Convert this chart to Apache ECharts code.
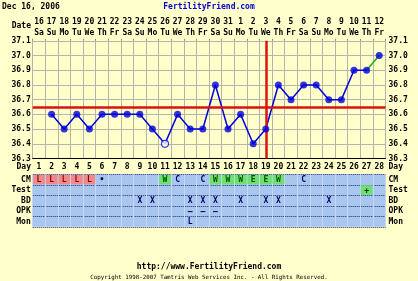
<!DOCTYPE html>
<html><head><meta charset="utf-8">
<script src="https://cdn.jsdelivr.net/npm/echarts@6/dist/echarts.min.js"></script>
<style>html,body{margin:0;padding:0;background:#ffffcc;}#c{width:418px;height:281px;}</style>
</head><body><div id="c"></div>
<script>
const dayNums = ['1','2','3','4','5','6','7','8','9','10','11','12','13','14','15','16','17','18','19','20','21','22','23','24','25','26','27','28'];
const dates = ['16','17','18','19','20','21','22','23','24','25','26','27','28','29','30','31','1','2','3','4','5','6','7','8','9','10','11','12'];
const weekdays = ['Sa','Su','Mo','Tu','We','Th','Fr','Sa','Su','Mo','Tu','We','Th','Fr','Sa','Su','Mo','Tu','We','Th','Fr','Sa','Su','Mo','Tu','We','Th','Fr'];
const temps = [null,36.6,36.5,36.6,36.5,36.6,36.6,36.6,36.6,36.5,36.4,36.6,36.5,36.5,36.8,36.5,36.6,36.4,36.5,36.8,36.7,36.8,36.8,36.7,36.7,36.9,36.9,37.0];
const hollowDays = ['11'];
const greenFromDay = '27';
const coverline = 36.65;
const ovulationDay = '19';
const tempMin = 36.3, tempMax = 37.1, tempStep = 0.1;
const rowNames = ['CM','Test','BD','OPK','Mon'];
const cmRow   = ['L','L','L','L','L','•','','','','','W','C','','C','W','W','W','E','E','W','','C','','','','','',''];
const testRow = ['','','','','','','','','','','','','','','','','','','','','','','','','','','+',''];
const bdRow   = ['','','','','','','','','X','X','','','X','X','X','','X','','X','X','','','','X','','','',''];
const opkRow  = ['','','','','','','','','','','','','–','–','–','','','','','','','','','','','','',''];
const monRow  = ['','','','','','','','','','','','','L','','','','','','','','','','','','','','',''];
const dateTitle = 'Dec 16, 2006';
const siteTitle = 'FertilityFriend.com';
const footUrl = 'http://www.FertilityFriend.com';
const footCopy = 'Copyright 1998-2007 Tamtris Web Services Inc. - All Rights Reserved.';

const FONT = '"DejaVu Sans Mono", monospace';
const rows = [cmRow, testRow, bdRow, opkRow, monRow];
const cells = [];
rows.forEach((r, ri) => r.forEach((t, di) => { if (t) cells.push([di, ri, t]); }));
const gi = dayNums.indexOf(greenFromDay);
const blueLine = temps.map((v, i) => i <= gi ? v : null);
const greenLine = temps.map((v, i) => i >= gi ? v : null);
const pts = temps.map((v, i) => v == null ? null : (hollowDays.includes(dayNums[i]) ?
  {value: v, itemStyle: {color: '#ffffff', borderColor: '#0000dd', borderWidth: 1.2}} : v));

function cellStyle(ri, t) {
  if (ri === 0 && t === 'L') return {bg: '#f08a8a', fg: '#8b0000'};
  if (ri === 0 && (t === 'W' || t === 'E')) return {bg: '#6ee06e', fg: '#005000'};
  if (ri === 1 && t === '+') return {bg: '#6ee06e', fg: '#003000'};
  return {bg: null, fg: '#000060'};
}

const chart = echarts.init(document.getElementById('c'), null, {renderer: 'canvas'});
const lbl = {fontFamily: FONT, fontWeight: 'bold', fontSize: 8, color: '#000'};
chart.setOption({
  backgroundColor: '#ffffcc',
  animation: false,
  grid: [
    {left: 32.7, right: 32.5, top: 40.8, height: 117.7, show: false},
    {left: 32.7, right: 32.5, top: 174.3, height: 52.5, show: true, backgroundColor: '#a8c6ee', borderWidth: 0}
  ],
  xAxis: [
    {type: 'category', gridIndex: 0, data: dayNums, position: 'bottom', boundaryGap: true,
     axisLine: {show: true, lineStyle: {color: '#000', width: 1}}, axisTick: {show: false},
     axisLabel: Object.assign({}, lbl, {interval: 0, margin: 4}),
     splitLine: {show: true, interval: 0, lineStyle: {color: '#b4b4a8', width: 1}}},
    {type: 'category', gridIndex: 0, data: dates, position: 'top', boundaryGap: true,
     axisLine: {show: false}, axisTick: {show: true, length: 2, interval: 0, lineStyle: {color: '#888'}},
     axisLabel: {interval: 0, margin: 3, formatter: (v, i) => '{d|' + v + '}\n{w|' + weekdays[i] + '}',
       rich: {d: Object.assign({}, lbl, {lineHeight: 10.3}), w: Object.assign({}, lbl, {lineHeight: 10.3})}}},
    {type: 'category', gridIndex: 1, data: dayNums, boundaryGap: true, show: true,
     axisLine: {show: false}, axisTick: {show: false}, axisLabel: {show: false},
     splitLine: {show: true, interval: 0, lineStyle: {color: '#c4d8f4', width: 1}}}
  ],
  yAxis: [
    {type: 'value', gridIndex: 0, min: tempMin, max: tempMax, interval: tempStep, position: 'left',
     axisLine: {show: false}, axisTick: {show: false},
     axisLabel: Object.assign({}, lbl, {margin: 2, formatter: v => v.toFixed(1)}),
     splitLine: {show: true, lineStyle: {color: '#b4b4a8', width: 1}}},
    {type: 'value', gridIndex: 0, min: tempMin, max: tempMax, interval: tempStep, position: 'right',
     axisLine: {show: false}, axisTick: {show: false},
     axisLabel: Object.assign({}, lbl, {margin: 3, formatter: v => v.toFixed(1)}), splitLine: {show: false}},
    {type: 'category', gridIndex: 1, data: rowNames, inverse: true, position: 'left', boundaryGap: true,
     axisLine: {show: false}, axisTick: {show: false},
     axisLabel: Object.assign({}, lbl, {margin: 2, interval: 0}),
     splitLine: {show: true, interval: 0, lineStyle: {color: '#1a2a70', width: 1, type: [1, 1]}}},
    {type: 'category', gridIndex: 1, data: rowNames, inverse: true, position: 'right', boundaryGap: true,
     axisLine: {show: false}, axisTick: {show: false},
     axisLabel: Object.assign({}, lbl, {margin: 3, interval: 0}), splitLine: {show: false}}
  ],
  series: [
    {type: 'line', xAxisIndex: 0, yAxisIndex: 0, data: blueLine, connectNulls: false, showSymbol: false, symbol: 'none',
     lineStyle: {color: '#0000dd', width: 1.5}, z: 3,
     markLine: {silent: true, symbol: 'none', label: {show: false},
       data: [{yAxis: coverline, lineStyle: {color: '#e01010', width: 2.5, type: 'solid'}},
              {xAxis: ovulationDay, lineStyle: {color: '#e01010', width: 2.5, type: 'solid'}}]}},
    {type: 'line', xAxisIndex: 0, yAxisIndex: 0, data: greenLine, showSymbol: false, symbol: 'none',
     lineStyle: {color: '#22aa22', width: 1.5}, z: 3},
    {type: 'scatter', xAxisIndex: 0, yAxisIndex: 0, data: pts, symbol: 'circle', symbolSize: 7,
     itemStyle: {color: '#0000dd'}, z: 5},
    {type: 'custom', xAxisIndex: 2, yAxisIndex: 2, data: cells, z: 4,
     renderItem: function (params, api) {
       const x = api.value(0), y = api.value(1), t = cells[params.dataIndex][2];
       const c = api.coord([x, y]), s = api.size([1, 1]);
       const st = cellStyle(y, t);
       const children = [];
       if (st.bg) children.push({type: 'rect', shape: {x: c[0] - s[0] / 2 + 0.5, y: c[1] - s[1] / 2 + 0.5, width: s[0] - 1, height: s[1] - 1},
         style: {fill: st.bg}});
       children.push({type: 'text', style: {text: t, x: c[0], y: c[1] + 0.5, textAlign: 'center', textVerticalAlign: 'middle',
         font: 'bold 8px ' + FONT, fill: st.fg}});
       return {type: 'group', children: children};
     }}
  ],
  graphic: [
    {type: 'text', left: 2, top: 3, style: {text: dateTitle, font: 'bold 8px ' + FONT, fill: '#000'}},
    {type: 'text', left: 'center', top: 3, style: {text: siteTitle, font: 'bold 8px ' + FONT, fill: '#0000cc'}},
    {type: 'text', right: 387, top: 22, style: {text: 'Date', font: 'bold 8px ' + FONT, fill: '#000'}},
    {type: 'text', right: 387, top: 163, style: {text: 'Day', font: 'bold 8px ' + FONT, fill: '#000'}},
    {type: 'text', left: 388.5, top: 163, style: {text: 'Day', font: 'bold 8px ' + FONT, fill: '#000'}},
    {type: 'text', left: 'center', top: 263, style: {text: footUrl, font: 'bold 8px ' + FONT, fill: '#000'}},
    {type: 'text', left: 'center', top: 274.5, style: {text: footCopy, font: '5.8px ' + FONT, fill: '#000'}}
  ]
});
</script></body></html>
